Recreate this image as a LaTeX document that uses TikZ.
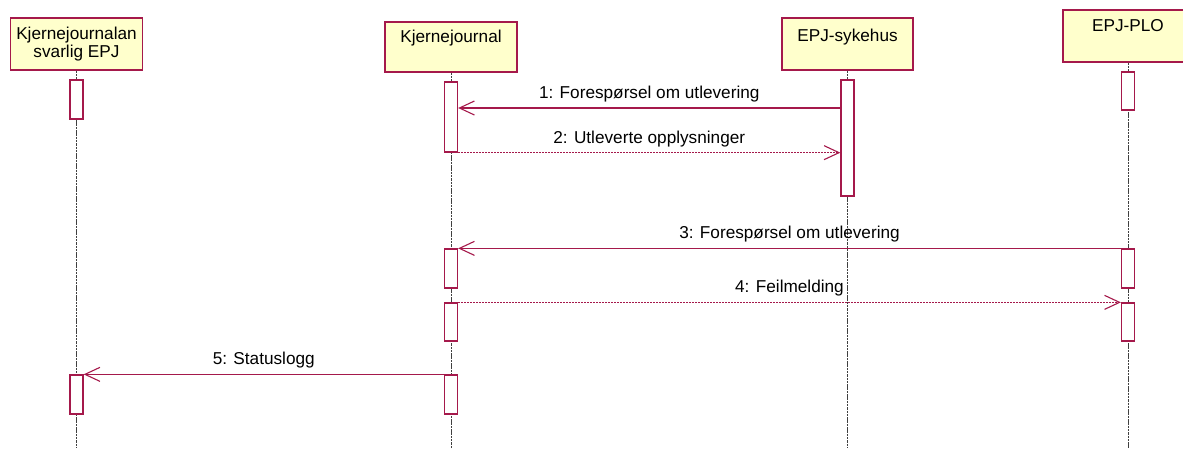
\documentclass[tikz,border=0pt]{standalone}
\usepackage{fontspec}
\setmainfont{Liberation Sans}
\usetikzlibrary{arrows.meta}
\definecolor{umlred}{RGB}{165,25,75}
\definecolor{umlfill}{RGB}{255,255,204}
\begin{document}
\begin{tikzpicture}[x=1pt,y=-1pt,
  font=\fontsize{17.2}{18}\selectfont,
  actor/.style={rectangle,draw=umlred,fill=umlfill,line width=1.3pt,minimum width=132pt,align=center,inner sep=0pt},
  act/.style={rectangle,draw=umlred,fill=white,line width=1.3pt,minimum width=13pt,inner sep=0pt},
  life/.style={draw=black!75,line width=1pt,dash pattern=on 2.5pt off 0.8pt},
  msg/.style={draw=umlred,line width=1.1pt,-{Straight Barb[length=15pt,width=14pt]}},
  reply/.style={msg,dash pattern=on 2pt off 1pt},
  lbl/.style={above=5pt,inner sep=0pt,text height=12pt,text depth=4pt,text=black}]
\useasboundingbox (0,0) rectangle (1183,448);

\node[actor,minimum height=52pt] at (76.5,44) (k1) {Kjernejournalan\\svarlig EPJ};
\node[actor,minimum height=50pt,text height=12.5pt,text depth=22.5pt] at (451,47) (k2) {Kjernejournal};
\node[actor,minimum height=52pt,minimum width=131pt,text height=12.5pt,text depth=18.5pt] at (847.5,44) (k3) {EPJ-sykehus};
\node[actor,minimum height=52pt,minimum width=130pt,text height=12.5pt,text depth=22.5pt] at (1128,36) (k4) {EPJ-PLO};

\coordinate (e1) at (76.5,448);
\coordinate (e2) at (451,448);
\coordinate (e3) at (847.5,448);
\coordinate (e4) at (1128,448);
\draw[life] (k1) -- (e1);
\draw[life] (k2) -- (e2);
\draw[life] (k3) -- (e3);
\draw[life] (k4) -- (e4);

\node[act,minimum height=39pt] at (76.5,99.5) (a1) {};
\node[act,minimum height=39pt] at (76.5,394.5) (a2) {};
\node[act,minimum height=70pt] at (451,117) (b1) {};
\node[act,minimum height=39pt] at (451,268.5) (b2) {};
\node[act,minimum height=38pt] at (451,322) (b3) {};
\node[act,minimum height=39pt] at (451,394.5) (b4) {};
\node[act,minimum height=116pt] at (847.5,138) (c1) {};
\node[act,minimum height=38pt] at (1128,91) (d1) {};
\node[act,minimum height=39pt] at (1128,268.5) (d2) {};
\node[act,minimum height=38pt] at (1128,322) (d3) {};

\coordinate (m1) at (650,108);
\draw[msg] (c1.west |- m1) -- node[lbl] {1: Forespørsel om utlevering} (b1.east |- m1);
\draw[reply] (b1.south east) -- node[lbl] {2: Utleverte opplysninger} (c1.west |- b1.south);
\draw[msg] (d2.north west) -- node[lbl] {3: Forespørsel om utlevering} (b2.north east);
\draw[reply] (b3.north east) -- node[lbl] {4: Feilmelding} (d3.north west);
\draw[msg] (b4.north west) -- node[lbl] {5: Statuslogg} (a2.north east);
\end{tikzpicture}
\end{document}
